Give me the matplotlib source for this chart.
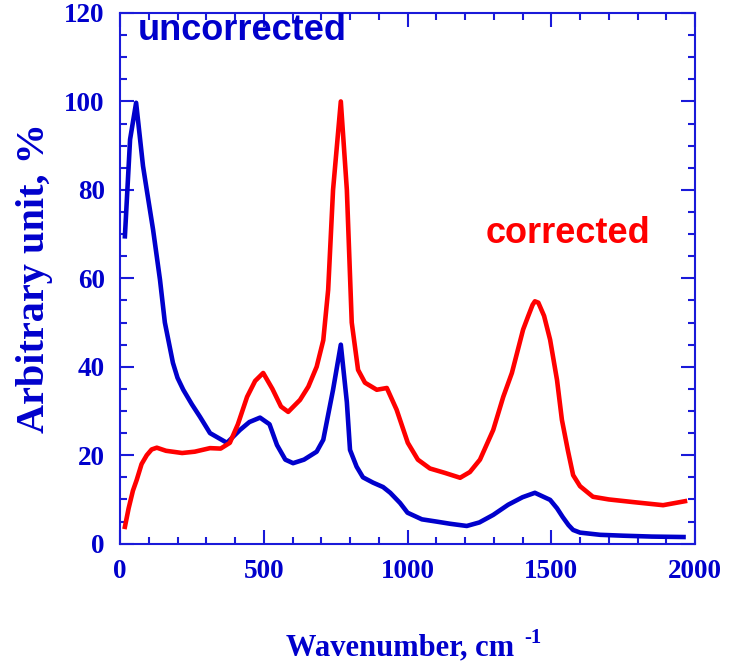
import matplotlib
matplotlib.use("Agg")
import matplotlib.pyplot as plt
from matplotlib.ticker import MultipleLocator

# Data
blue_x = [17, 35, 56, 80, 93, 115, 139, 156, 184, 200, 220, 250, 278, 313, 372, 417, 450, 487,
          520, 546, 575, 602, 640, 684, 707, 741, 768, 789, 800, 823, 845, 880, 915, 940, 974,
          1000, 1050, 1100, 1148, 1206, 1250, 1298, 1350, 1400, 1443, 1496, 1520, 1540, 1560,
          1576, 1600, 1670, 1750, 1850, 1960]
blue_y = [69.5, 91.4, 99.7, 85.4, 80, 71, 59.7, 50, 40.9, 37.5, 34.8, 31.5, 28.7, 25, 22.8, 25.7,
          27.5, 28.5, 27, 22.3, 19, 18.2, 19, 20.8, 23.5, 34.8, 45, 32, 21.2, 17.4, 15, 13.8,
          12.8, 11.5, 9.2, 7, 5.5, 5, 4.5, 4.0, 4.8, 6.5, 8.8, 10.5, 11.5, 9.9, 8, 6, 4.2, 3.1,
          2.5, 2.0, 1.8, 1.6, 1.5]

red_x = [17, 30, 45, 58, 75, 93, 110, 128, 160, 216, 260, 313, 350, 382, 410, 442, 470, 498,
         530, 560, 585, 626, 655, 684, 707, 724, 741, 768, 789, 806, 828, 852, 893, 928, 962,
         1001, 1036, 1078, 1130, 1183, 1217, 1252, 1298, 1333, 1363, 1402, 1420, 1435, 1443,
         1455, 1475, 1496, 1520, 1537, 1558, 1576, 1600, 1645, 1700, 1785, 1889, 1965]
red_y = [3.8, 8, 12, 14.4, 18, 20, 21.3, 21.7, 21, 20.5, 20.8, 21.6, 21.5, 22.8, 27, 33.2, 36.8,
         38.6, 35, 31, 29.8, 32.5, 35.5, 40, 46, 57.4, 80, 100, 80, 50, 39.3, 36.4, 34.8, 35.2,
         30.3, 22.8, 19, 17, 16, 14.9, 16.2, 19, 25.7, 33.2, 38.6, 48.4, 51.5, 54, 54.8, 54.5,
         51.5, 46.1, 37, 28, 21, 15.5, 13, 10.6, 10, 9.4, 8.7, 9.6]

x_ticks = [0, 500, 1000, 1500, 2000]
y_ticks = [0, 20, 40, 60, 80, 100, 120]

BLUE = "#0000cc"
RED = "#ff0000"
AXC = "#1a1ad9"

fig = plt.figure(figsize=(7.34, 6.63), dpi=100)
ax = fig.add_axes([0.1635, 0.18, 0.9469 - 0.1635, 0.9804 - 0.18])

ax.plot(blue_x, blue_y, color=BLUE, lw=3.3, solid_joinstyle='round')
ax.plot(red_x, red_y, color=RED, lw=3.3, solid_joinstyle='round')

ax.set_xlim(0, 2000)
ax.set_ylim(0, 120)
ax.set_xticks(x_ticks)
ax.set_yticks(y_ticks)
ax.xaxis.set_minor_locator(MultipleLocator(100))
ax.yaxis.set_minor_locator(MultipleLocator(5))

for s in ax.spines.values():
    s.set_color(AXC)
    s.set_linewidth(1.5)

ax.tick_params(which='both', direction='in', top=True, right=True, color=AXC, width=1.5)
ax.tick_params(which='major', length=10, pad=11)
ax.tick_params(which='minor', length=5)

for lab in ax.get_xticklabels() + ax.get_yticklabels():
    lab.set_fontfamily('Liberation Serif')
    lab.set_fontweight('bold')
    lab.set_fontsize(19.5)
    lab.set_color(BLUE)

# x-axis label with a small "-1" superscript
fig.text(286 / 734, 1 - 655 / 663, "Wavenumber, cm", fontfamily='Liberation Serif',
         fontweight='bold', fontsize=22, color=BLUE, ha='left', va='baseline')
fig.text(524 / 734, 1 - 643 / 663, "-1", fontfamily='Liberation Serif',
         fontweight='bold', fontsize=15, color=BLUE, ha='left', va='baseline')

ax.set_ylabel("Arbitrary unit, %", fontfamily='Liberation Serif', fontweight='bold',
              fontsize=29, color=BLUE, labelpad=8)

ax.text(63, 114, "uncorrected", color=BLUE, fontfamily='Liberation Sans', fontweight='bold',
        fontsize=26, ha='left', va='baseline')
ax.text(1270, 68, "corrected", color=RED, fontfamily='Liberation Sans', fontweight='bold',
        fontsize=26, ha='left', va='baseline')

fig.savefig("out.png", dpi=100)
